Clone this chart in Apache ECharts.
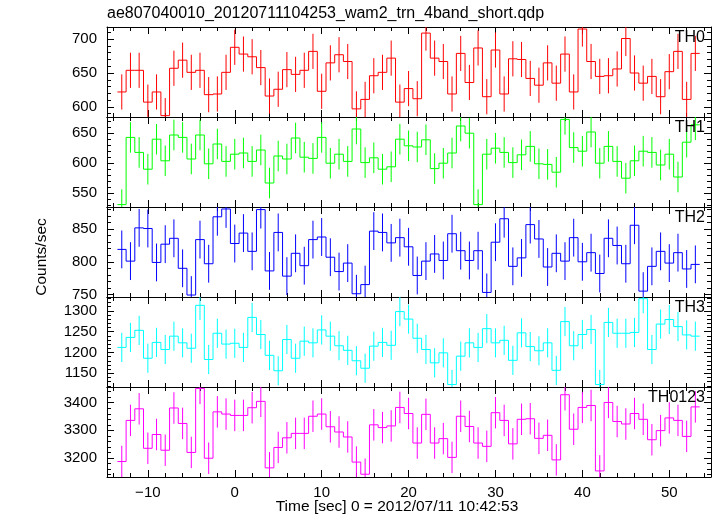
<!DOCTYPE html>
<html><head><meta charset="utf-8">
<script src="https://cdn.jsdelivr.net/npm/echarts@6/dist/echarts.min.js"></script>
<style>html,body{margin:0;padding:0;background:#fff}#c{width:717px;height:516px}</style>
</head><body><div id="c"></div>
<script>
const chartTitle = 'ae807040010_20120711104253_wam2_trn_4band_short.qdp';
const xTitle = 'Time [sec] 0 = 2012/07/11 10:42:53';
const yTitle = 'Counts/sec';
const panelNames = ['TH0', 'TH1', 'TH2', 'TH3', 'TH0123'];

const timeBins = [-13,-12,-11,-10,-9,-8,-7,-6,-5,-4,-3,-2,-1,0,1,2,3,4,5,6,7,8,9,10,11,12,13,14,15,16,17,18,19,20,21,22,23,24,25,26,27,28,29,30,31,32,33,34,35,36,37,38,39,40,41,42,43,44,45,46,47,48,49,50,51,52,53];

const th0Rates = [622,654,654,607,622,587,657,669,651,654,618,619,651,688,678,674,658,616,626,655,648,654,682,623,665,677,667,597,611,646,651,672,607,627,612,709,672,667,619,679,636,687,615,684,619,671,670,642,632,665,635,678,622,715,667,645,646,656,701,650,635,645,615,652,682,611,679];
const th1Rates = [531,643,618,590,640,604,647,643,607,647,599,632,603,615,617,603,622,567,612,607,642,610,608,643,600,615,603,657,601,609,590,594,640,629,627,639,591,600,617,662,650,531,615,625,618,601,614,628,599,598,585,673,626,620,652,600,628,603,575,604,620,618,597,615,577,635,664];
const th2Rates = [819,801,852,851,799,827,836,790,749,834,797,869,881,828,844,816,880,786,845,778,813,794,834,838,807,785,798,751,765,847,845,829,837,823,779,801,812,802,843,817,802,817,753,830,866,793,806,857,835,792,813,801,837,800,814,782,836,825,797,856,755,793,816,798,814,789,796];
const th3Rates = [1212,1236,1253,1186,1224,1207,1239,1223,1210,1313,1183,1246,1220,1222,1212,1284,1243,1193,1156,1231,1186,1227,1223,1254,1239,1216,1205,1180,1162,1215,1224,1217,1298,1280,1234,1207,1175,1199,1123,1191,1223,1212,1257,1223,1229,1181,1247,1214,1204,1223,1157,1274,1216,1243,1255,1123,1272,1246,1246,1248,1329,1207,1268,1279,1262,1242,1239];
const th0123Rates = [3187,3336,3378,3235,3285,3228,3381,3325,3220,3452,3199,3367,3359,3354,3354,3382,3405,3164,3238,3273,3289,3289,3351,3359,3313,3294,3276,3185,3141,3320,3310,3316,3383,3361,3254,3358,3254,3270,3202,3351,3314,3254,3242,3364,3336,3251,3340,3342,3271,3282,3193,3429,3304,3383,3390,3153,3401,3332,3323,3361,3340,3266,3299,3345,3336,3278,3385];
// half-length of the error bars read per panel
const errorHalf = [26, 25.5, 29, 35, 57];

const xMajorTicks = [-10, 0, 10, 20, 30, 40, 50];
const xMinorTicks = [-14,-12,-10,-8,-6,-4,-2,0,2,4,6,8,10,12,14,16,18,20,22,24,26,28,30,32,34,36,38,40,42,44,46,48,50,52,54];
const yMajorTicks = [
  [600, 650, 700],
  [550, 600, 650],
  [750, 800, 850],
  [1150, 1200, 1250, 1300],
  [3200, 3300, 3400]
];
const yMinorTicks = [
  [590,600,610,620,630,640,650,660,670,680,690,700,710],
  [530,540,550,560,570,580,590,600,610,620,630,640,650,660,670],
  [750,760,770,780,790,800,810,820,830,840,850,860,870,880],
  [1120,1130,1140,1150,1160,1170,1180,1190,1200,1210,1220,1230,1240,1250,1260,1270,1280,1290,1300,1310,1320,1330],
  [3140,3160,3180,3200,3220,3240,3260,3280,3300,3320,3340,3360,3380,3400,3420,3440]
];
const yRanges = [[585, 718], [527, 677], [746, 884], [1117, 1333], [3131, 3457]];
const xRange = [-14.7, 54.8];

const rateSets = [th0Rates, th1Rates, th2Rates, th3Rates, th0123Rates];
const colors = ['#ff0000', '#00ff00', '#0000ff', '#00ffff', '#ff00ff'];
const FONT = 'Liberation Sans, Arial, Helvetica, sans-serif';
const panelTops = [27, 117, 207, 297, 387];
const panelH = 90;

const grids = [], xAxes = [], yAxes = [], series = [], graphics = [];
const fmtX = v => (v < 0 ? '\u2212' + Math.abs(v) : String(v));
const fmtY = v => String(v);
const black = { color: '#000', width: 1 };

panelTops.forEach((top, i) => {
  grids.push({ left: 107, right: 6, top: top, height: panelH, show: false });
  const last = i === panelTops.length - 1;
  ['bottom', 'top'].forEach(pos => {
    xAxes.push({
      type: 'value', gridIndex: i, position: pos, min: xRange[0], max: xRange[1],
      axisLine: { show: true, onZero: false, lineStyle: black },
      axisTick: { show: true, inside: true, length: 7, customValues: xMajorTicks, lineStyle: black },
      axisLabel: { show: last && pos === 'bottom', customValues: xMajorTicks, formatter: fmtX, margin: 8, color: '#000', fontSize: 15, fontFamily: FONT },
      splitLine: { show: false }
    });
    xAxes.push({
      type: 'value', gridIndex: i, position: pos, min: xRange[0], max: xRange[1],
      axisLine: { show: false, onZero: false },
      axisTick: { show: true, inside: true, length: 4, customValues: xMinorTicks, lineStyle: black },
      axisLabel: { show: false },
      splitLine: { show: false }
    });
  });
  ['left', 'right'].forEach(pos => {
    yAxes.push({
      type: 'value', gridIndex: i, position: pos, min: yRanges[i][0], max: yRanges[i][1],
      axisLine: { show: true, onZero: false, lineStyle: black },
      axisTick: { show: true, inside: true, length: 7, customValues: yMajorTicks[i], lineStyle: black },
      axisLabel: { show: pos === 'left', customValues: yMajorTicks[i], formatter: fmtY, margin: 10, color: '#000', fontSize: 15, fontFamily: FONT },
      splitLine: { show: false }
    });
    yAxes.push({
      type: 'value', gridIndex: i, position: pos, min: yRanges[i][0], max: yRanges[i][1],
      axisLine: { show: false, onZero: false },
      axisTick: { show: true, inside: true, length: 4, customValues: yMinorTicks[i], lineStyle: black },
      axisLabel: { show: false },
      splitLine: { show: false }
    });
  });

  const vals = rateSets[i];
  const data = timeBins.map((t, k) => [t, vals[k], k > 0 ? vals[k - 1] : vals[k]]);
  const color = colors[i];
  const err = errorHalf[i];
  series.push({
    type: 'custom', name: panelNames[i], xAxisIndex: i * 4, yAxisIndex: i * 4,
    clip: true, silent: true, animation: false,
    data: data,
    renderItem: function (params, api) {
      const t = api.value(0), v = api.value(1), pv = api.value(2);
      const a = api.coord([t - 0.5, v]), b = api.coord([t + 0.5, v]);
      const c = api.coord([t - 0.5, pv]);
      const lo = api.coord([t, v - err]), hi = api.coord([t, v + err]);
      const style = { stroke: color, lineWidth: 1, fill: null };
      return {
        type: 'group', children: [
          { type: 'line', shape: { x1: a[0], y1: a[1], x2: b[0], y2: b[1] }, style: style },
          { type: 'line', shape: { x1: c[0], y1: c[1], x2: a[0], y2: a[1] }, style: style },
          { type: 'line', shape: { x1: lo[0], y1: lo[1], x2: hi[0], y2: hi[1] }, style: style }
        ]
      };
    }
  });

  graphics.push({
    type: 'text', right: 12, top: top + 3, z: 100,
    style: { text: panelNames[i], fill: '#000', font: '16px ' + FONT }
  });
});

graphics.push({ type: 'text', left: 107, top: 6, style: { text: chartTitle, fill: '#000', font: '16px ' + FONT } });
graphics.push({ type: 'text', x: 397, y: 507, style: { text: xTitle, fill: '#000', font: '15.5px ' + FONT, textAlign: 'center', textVerticalAlign: 'middle' } });
graphics.push({ type: 'text', x: 41.5, y: 257, rotation: Math.PI / 2, style: { text: yTitle, fill: '#000', font: '15.5px ' + FONT, textAlign: 'center', textVerticalAlign: 'middle' } });

const chart = echarts.init(document.getElementById('c'), null, { renderer: 'canvas' });
chart.setOption({
  animation: false,
  backgroundColor: '#fff',
  grid: grids, xAxis: xAxes, yAxis: yAxes, series: series, graphic: graphics
});
</script></body></html>
